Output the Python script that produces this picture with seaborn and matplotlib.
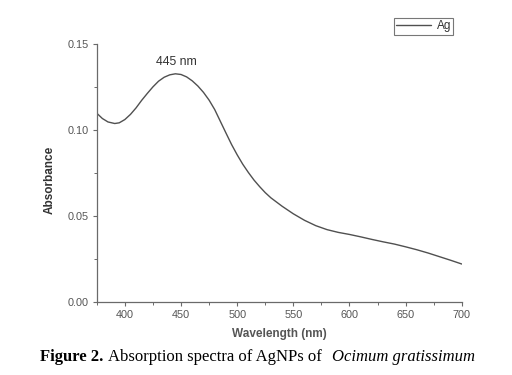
import matplotlib
matplotlib.use("Agg")
import matplotlib.pyplot as plt
import seaborn as sns
import pandas as pd
from matplotlib.ticker import MultipleLocator, FormatStrFormatter

wavelength = [375, 380, 385, 391, 395, 400, 405, 410, 415, 420, 425, 430, 435, 440, 445, 450, 455,
              460, 465, 470, 475, 480, 485, 490, 495, 500, 505, 510, 515, 520, 525, 530, 540, 550,
              560, 570, 580, 590, 600, 610, 620, 630, 640, 650, 660, 670, 680, 690, 700]
absorbance = [0.1097, 0.1066, 0.1046, 0.1037, 0.1041, 0.1060, 0.1090, 0.1128, 0.1172, 0.1212, 0.1250,
              0.1283, 0.1306, 0.1320, 0.1326, 0.1322, 0.1308, 0.1285, 0.1255, 0.1218, 0.1173, 0.1118,
              0.1050, 0.0982, 0.0915, 0.0855, 0.0800, 0.0752, 0.0708, 0.0670, 0.0635, 0.0605, 0.0556,
              0.0512, 0.0474, 0.0443, 0.0420, 0.0404, 0.0392, 0.0378, 0.0363, 0.0349, 0.0336, 0.0320,
              0.0303, 0.0284, 0.0263, 0.0242, 0.0220]
series_name = "Ag"
peak_label = "445 nm"

df = pd.DataFrame({"Wavelength (nm)": wavelength, "Absorbance": absorbance, "series": series_name})

sns.set_theme(style="white")
plt.rcParams["font.family"] = ["Liberation Sans", "DejaVu Sans"]

fig = plt.figure(figsize=(5.12, 3.75), dpi=100)
ax = fig.add_axes([0.189, 0.195, 0.713, 0.688])

sns.lineplot(data=df, x="Wavelength (nm)", y="Absorbance", hue="series",
             palette=["#505050"], linewidth=1.0, ax=ax)

ax.set_xlim(375, 700)
ax.set_ylim(0, 0.15)
ax.xaxis.set_major_locator(MultipleLocator(50))
ax.xaxis.set_minor_locator(MultipleLocator(25))
ax.yaxis.set_major_locator(MultipleLocator(0.05))
ax.yaxis.set_minor_locator(MultipleLocator(0.025))
ax.yaxis.set_major_formatter(FormatStrFormatter("%.2f"))

gray = "#555555"
for s in ["top", "right"]:
    ax.spines[s].set_visible(False)
for s in ["left", "bottom"]:
    ax.spines[s].set_color("#6a6a6a")
    ax.spines[s].set_linewidth(0.9)

ax.tick_params(which="major", direction="out", length=3, width=0.8, colors="#6a6a6a",
               labelsize=7.8, labelcolor=gray, left=True, bottom=True, pad=3)
ax.tick_params(which="minor", direction="out", length=2, width=0.7, colors="#6a6a6a",
               left=True, bottom=True)

ax.set_xlabel("Wavelength (nm)", fontsize=8.5, fontweight="bold", color=gray)
ax.set_ylabel("Absorbance", fontsize=8.5, fontweight="bold", color="#333333")
ax.xaxis.set_label_coords(0.499, (302 - 334) / 258)
ax.xaxis.label.set_va("center")
ax.yaxis.set_label_coords((50 - 97) / 365, (302 - 180.5) / 258)
ax.yaxis.label.set_va("center")

ax.annotate(peak_label, xy=(446, 0.1326), xytext=(446, (302 - 62) / 1720), ha="center", va="center",
            fontsize=8.8, color="#333333")

leg = ax.legend(loc="upper left", frameon=True, fontsize=8.5, handlelength=2.9, handletextpad=0.5,
                borderpad=0.2, borderaxespad=0, fancybox=False, labelcolor="#333333")
leg.get_frame().set_edgecolor("#555555")
leg.get_frame().set_linewidth(0.8)
leg.set_bbox_to_anchor((394 / 512, 1 - 18 / 375), transform=fig.transFigure)

serif = ["Liberation Serif", "DejaVu Serif"]
y_cap = 1 - 357 / 375
fig.text(40 / 512, y_cap, "Figure 2.", fontsize=12, fontweight="bold", family=serif, va="center", color="black")
fig.text(108 / 512, y_cap, "Absorption spectra of AgNPs of", fontsize=12, family=serif, va="center", color="black")
fig.text(332 / 512, y_cap, "Ocimum gratissimum", fontsize=12, style="italic", family=serif, va="center", color="black")

fig.savefig("out.png", dpi=100)
